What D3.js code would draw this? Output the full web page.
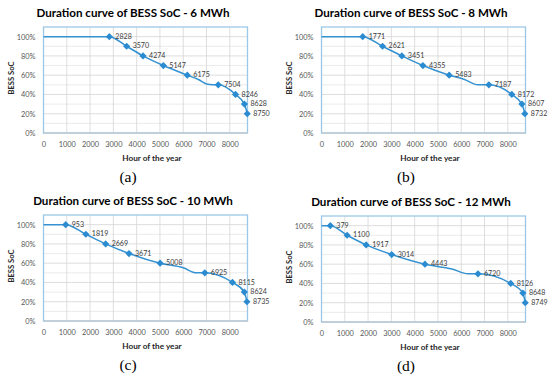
<!DOCTYPE html>
<html>
<head>
<meta charset="utf-8">
<script src="https://cdn.jsdelivr.net/npm/d3@7"></script>
<style>
  html, body { margin: 0; padding: 0; background: #fff; }
  svg { display: block; }
</style>
</head>
<body>
<svg id="chart" width="550" height="380"></svg>
<script>
// ---------- data ----------
const titles = ["Duration curve of BESS SoC - 6 MWh", "Duration curve of BESS SoC - 8 MWh",
                "Duration curve of BESS SoC - 10 MWh", "Duration curve of BESS SoC - 12 MWh"];
const captions = ["(a)", "(b)", "(c)", "(d)"];
const socLevels = [1.0, 0.9, 0.8, 0.7, 0.6, 0.5, 0.4, 0.3, 0.2];
const hoursA = [2828, 3570, 4274, 5147, 6175, 7504, 8246, 8628, 8750];
const hoursB = [1771, 2621, 3451, 4355, 5483, 7187, 8172, 8607, 8732];
const hoursC = [953, 1819, 2669, 3671, 5008, 6925, 8115, 8624, 8735];
const hoursD = [379, 1100, 1917, 3014, 4443, 6720, 8126, 8648, 8749];
// extra shape points of the curve (hour, SoC), between 60% and 50%
const bendA = [[6650, 0.555], [7050, 0.505], [7250, 0.5]];
const bendB = [[6140, 0.555], [6720, 0.5]];
const bendC = [[6000, 0.552], [6570, 0.5]];
const bendD = [[5600, 0.55], [6300, 0.5]];
const startPoint = [0, 1.0];
const xTicks = [0, 1000, 2000, 3000, 4000, 5000, 6000, 7000, 8000];
const yTicks = [0, 0.2, 0.4, 0.6, 0.8, 1.0];
const yMinor = [0.1, 0.3, 0.5, 0.7, 0.9];
const xMax = 8760, yMax = 1.1;

const series = [hoursA, hoursB, hoursC, hoursD];
const bends = [bendA, bendB, bendC, bendD];
const offsets = [[0, 0], [278, 0], [0, 188], [278, 189]];

// ---------- drawing ----------
const svg = d3.select("#chart");
const L = 43.5, R = 247.5, T = 27, B = 133;
const lineColor = "#3592d2", markColor = "#2b8bd0";

series.forEach((hours, i) => {
  const g = svg.append("g").attr("transform", `translate(${offsets[i][0]},${offsets[i][1]})`);
  const x = d3.scaleLinear().domain([0, xMax]).range([L, R]);
  const y = d3.scaleLinear().domain([0, yMax]).range([B, T]);

  // minor horizontal grid
  g.append("g").selectAll("line").data(yMinor).join("line")
    .attr("x1", L).attr("x2", R).attr("y1", d => y(d)).attr("y2", d => y(d))
    .attr("stroke", "#e6e6e6").attr("stroke-width", 0.8);
  // major horizontal grid
  g.append("g").selectAll("line").data(yTicks).join("line")
    .attr("x1", L).attr("x2", R).attr("y1", d => y(d)).attr("y2", d => y(d))
    .attr("stroke", "#d6d6d6").attr("stroke-width", 0.8);
  // vertical grid
  g.append("g").selectAll("line").data(xTicks.slice(1)).join("line")
    .attr("x1", d => x(d)).attr("x2", d => x(d)).attr("y1", T).attr("y2", B)
    .attr("stroke", "#d6d6d6").attr("stroke-width", 0.8);

  // frame
  g.append("rect").attr("x", L).attr("y", T).attr("width", R - L).attr("height", B - T)
    .attr("fill", "none").attr("stroke", "#9cc8e8").attr("stroke-width", 1.3);
  g.append("line").attr("x1", L).attr("x2", R).attr("y1", B).attr("y2", B)
    .attr("stroke", "#c8c8c8").attr("stroke-width", 1);

  // axes (tick labels only)
  const xAxis = d3.axisBottom(x).tickValues(xTicks).tickSize(0).tickPadding(9).tickFormat(d3.format("d"));
  const gx = g.append("g").attr("transform", `translate(0,${B})`).call(xAxis);
  gx.select(".domain").remove();
  gx.selectAll("text").attr("font-family", "Lato, sans-serif").attr("font-size", 7.4).attr("fill", "#595959");

  const yAxis = d3.axisLeft(y).tickValues(yTicks).tickSize(0).tickPadding(8).tickFormat(d3.format(".0%"));
  const gy = g.append("g").attr("transform", `translate(${L},0)`).call(yAxis);
  gy.select(".domain").remove();
  gy.selectAll("text").attr("font-family", "Lato, sans-serif").attr("font-size", 7.4).attr("fill", "#595959");

  // curve
  const pts = hours.map((h, k) => [h, socLevels[k]]);
  const curvePts = [startPoint, ...pts, ...bends[i]].sort((a, b) => a[0] - b[0]);
  g.append("path").datum(curvePts)
    .attr("d", d3.line().x(d => x(d[0])).y(d => y(d[1])).curve(d3.curveMonotoneX))
    .attr("fill", "none").attr("stroke", lineColor).attr("stroke-width", 1.5);

  // markers
  const s = 3.6;
  g.append("g").selectAll("path").data(pts).join("path")
    .attr("d", d => `M${x(d[0])},${y(d[1]) - s}L${x(d[0]) + s},${y(d[1])}L${x(d[0])},${y(d[1]) + s}L${x(d[0]) - s},${y(d[1])}Z`)
    .attr("fill", markColor);

  // data labels
  g.append("g").selectAll("text").data(pts).join("text")
    .attr("x", d => x(d[0]) + 6).attr("y", d => y(d[1]) + 2.2)
    .attr("font-family", "Lato, sans-serif").attr("font-size", 7.1).attr("fill", "#404040")
    .text(d => d[0]);

  // title
  g.append("text").attr("x", 133).attr("y", 16.8).attr("text-anchor", "middle")
    .attr("font-family", "Lato, sans-serif").attr("font-weight", "bold").attr("font-size", 11.6)
    .attr("fill", "#000").text(titles[i]);

  // axis titles
  g.append("text").attr("x", 152).attr("y", 160.5).attr("text-anchor", "middle")
    .attr("font-family", "Lato, sans-serif").attr("font-weight", "bold").attr("font-size", 8.2)
    .attr("fill", "#262626").text("Hour of the year");
  g.append("text").attr("transform", "translate(14,78) rotate(-90)").attr("text-anchor", "middle")
    .attr("font-family", "Lato, sans-serif").attr("font-weight", "bold").attr("font-size", 7.6)
    .attr("fill", "#262626").text("BESS SoC");

  // caption
  g.append("text").attr("x", 128).attr("y", 182).attr("text-anchor", "middle")
    .attr("font-family", "'Liberation Serif', 'DejaVu Serif', serif").attr("font-size", 15.5)
    .attr("fill", "#000").text(captions[i]);
});
</script>
</body>
</html>
